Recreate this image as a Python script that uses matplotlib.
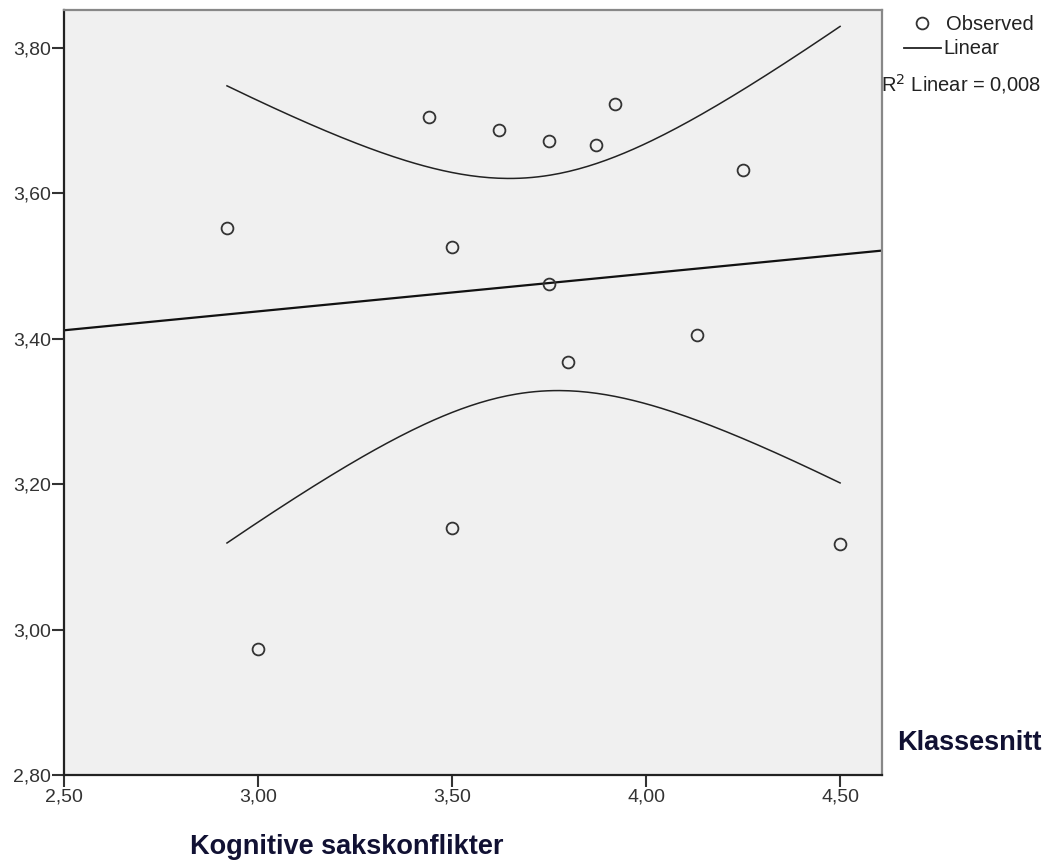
import numpy as np
import matplotlib.pyplot as plt
from matplotlib.lines import Line2D

# Klassesnitt mot kognitive sakskonflikter (ett punkt per klasse)
konflikt = [2.92, 3.00, 3.44, 3.50, 3.50, 3.62, 3.75, 3.75, 3.80, 3.87, 3.92, 4.13, 4.25, 4.50]
klassesnitt = [3.552, 2.973, 3.705, 3.526, 3.140, 3.687, 3.672, 3.475, 3.368, 3.667, 3.723, 3.405, 3.632, 3.118]

x_ticks = [2.50, 3.00, 3.50, 4.00, 4.50]
y_ticks = [2.80, 3.00, 3.20, 3.40, 3.60, 3.80]
r2_linear = 0.008   # rapportert i SPSS-utskriften
t_krit = 2.179      # t(0.975, df=12)

x = np.array(konflikt)
y = np.array(klassesnitt)
n = len(x)

# lineær regresjon + 95 % KI for gjennomsnitt
b, a = np.polyfit(x, y, 1)
yhat = a + b * x
s = np.sqrt(np.sum((y - yhat) ** 2) / (n - 2))
sxx = np.sum((x - x.mean()) ** 2)

xmin, xmax = 2.5, 4.608
xs_fit = np.linspace(xmin, xmax, 50)
xs_ci = np.linspace(x.min(), x.max(), 200)
se = s * np.sqrt(1 / n + (xs_ci - x.mean()) ** 2 / sxx)
ci_hi = a + b * xs_ci + t_krit * se
ci_lo = a + b * xs_ci - t_krit * se

plt.rcParams['font.family'] = ['Liberation Sans', 'DejaVu Sans']

fig = plt.figure(figsize=(10.48, 8.65), dpi=100)
ax = fig.add_axes([64 / 1048, 1 - 775 / 865, (882 - 64) / 1048, (775 - 10) / 865])
ax.set_facecolor('#f0f0f0')

ax.plot(xs_fit, a + b * xs_fit, color='#111111', lw=1.6, zorder=2)
ax.plot(xs_ci, ci_hi, color='#222222', lw=1.1, zorder=2)
ax.plot(xs_ci, ci_lo, color='#222222', lw=1.1, zorder=2)
ax.plot(x, y, 'o', ms=8.5, mfc='none', mec='#333333', mew=1.3, zorder=3)

ax.set_xlim(xmin, xmax)
ax.set_ylim(2.80, 3.852)
ax.set_xticks(x_ticks)
ax.set_yticks(y_ticks)
ax.set_xticklabels([f'{v:.2f}'.replace('.', ',') for v in x_ticks])
ax.set_yticklabels([f'{v:.2f}'.replace('.', ',') for v in y_ticks])
ax.tick_params(direction='out', length=8.5, width=1.5, color='#333333',
               labelsize=14, labelcolor='#333333', pad=1)

for side in ['left', 'bottom']:
    ax.spines[side].set_color('#222222')
    ax.spines[side].set_linewidth(1.6)
for side in ['top', 'right']:
    ax.spines[side].set_color('#888888')
    ax.spines[side].set_linewidth(1.6)

# aksetitler, plassert som i SPSS
fig.text(190 / 1048, 1 - 847 / 865, 'Kognitive sakskonflikter', fontsize=19.5,
         fontweight='bold', color='#111133', va='center', ha='left')
fig.text(897 / 1048, 1 - 743 / 865, 'Klassesnitt', fontsize=19.5,
         fontweight='bold', color='#111133', va='center', ha='left')

# forklaring
fig.add_artist(Line2D([922 / 1048], [1 - 23 / 865], marker='o', ms=8.5, mfc='none',
                      mec='#333333', mew=1.3, transform=fig.transFigure))
fig.text(946 / 1048, 1 - 24 / 865, 'Observed', fontsize=14.5, va='center', color='#222222')
fig.add_artist(Line2D([904 / 1048, 941 / 1048], [1 - 48 / 865] * 2, color='#222222',
                      lw=1.3, transform=fig.transFigure))
fig.text(943 / 1048, 1 - 48 / 865, 'Linear', fontsize=14.5, va='center', color='#222222')
fig.text(881 / 1048, 1 - 84 / 865, f'R$^2$ Linear = {r2_linear:.3f}'.replace('.', ','),
         fontsize=14.5, va='center', color='#222222')

fig.savefig('out.png', dpi=100)
